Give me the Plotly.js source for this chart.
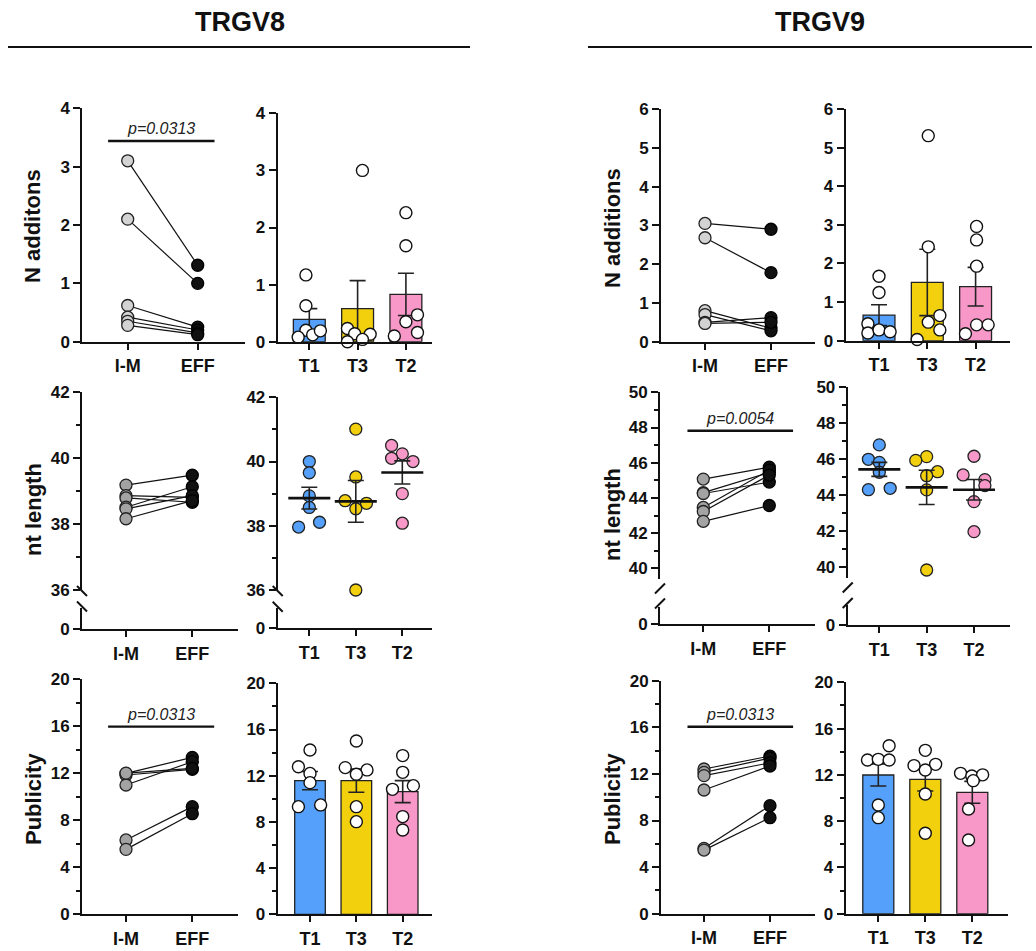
<!DOCTYPE html>
<html>
<head>
<meta charset="utf-8">
<script src="https://cdn.plot.ly/plotly-3.0.1.min.js"></script>
<style>html,body{margin:0;padding:0;background:#fff;}#chart{width:1036px;height:951px;}</style>
</head>
<body>
<div id="chart"></div>
<script>
// ---------------- DATA ----------------
const pairedCats = ['I-M', 'EFF'];
const barCats = ['T1', 'T3', 'T2'];
const groupTitles = ['TRGV8', 'TRGV9'];
const yTitlesLeft = ['N additons', 'nt length', 'Publicity'];
const yTitlesRight = ['N additions', 'nt length', 'Publicity'];

// TRGV8 - N additions
const v8NaddIM  = [3.10, 2.10, 0.62, 0.42, 0.35, 0.28];
const v8NaddEFF = [1.31, 1.00, 0.25, 0.20, 0.15, 0.12];
const v8NaddMean = [0.39, 0.58, 0.83];
const v8NaddSem  = [0.19, 0.49, 0.37];
const v8NaddT1 = [1.17, 0.63, 0.20, 0.08, 0.12, 0.19];
const v8NaddT3 = [3.00, 0.23, 0.14, 0.13, 0.00, 0.04];
const v8NaddT2 = [2.26, 1.68, 0.47, 0.35, 0.16, 0.10];

// TRGV9 - N additions
const v9NaddIM  = [3.05, 2.68, 0.80, 0.70, 0.50, 0.47];
const v9NaddEFF = [2.90, 1.78, 0.35, 0.28, 0.62, 0.50];
const v9NaddMean = [0.66, 1.51, 1.40];
const v9NaddSem  = [0.27, 0.86, 0.50];
const v9NaddT1 = [1.67, 1.25, 0.44, 0.20, 0.28, 0.23];
const v9NaddT3 = [5.31, 2.43, 0.65, 0.48, 0.28, 0.03];
const v9NaddT2 = [2.96, 2.61, 1.93, 0.41, 0.41, 0.18];

// TRGV8 - nt length
const v8LenIM  = [39.17, 38.85, 38.78, 38.50, 38.45, 38.15];
const v8LenEFF = [39.47, 38.80, 38.65, 39.12, 38.85, 38.70];
const v8LenMean = [38.86, 38.76, 39.66];
const v8LenSem  = [0.34, 0.65, 0.36];
const v8LenT1 = [40.00, 39.65, 38.93, 38.57, 37.96, 38.11];
const v8LenT3 = [41.01, 39.52, 38.78, 38.70, 38.53, 36.00];
const v8LenT2 = [40.50, 40.24, 40.10, 40.00, 39.00, 38.08];

// TRGV9 - nt length
const v9LenIM  = [45.07, 44.30, 44.25, 43.46, 43.23, 42.67];
const v9LenEFF = [45.75, 45.45, 44.90, 45.58, 45.30, 43.57];
const v9LenMean = [45.44, 44.44, 44.31];
const v9LenSem  = [0.39, 0.95, 0.57];
const v9LenT1 = [46.80, 46.00, 45.83, 45.28, 44.31, 44.39];
const v9LenT3 = [46.15, 45.94, 45.31, 45.09, 44.30, 39.85];
const v9LenT2 = [46.17, 45.13, 44.87, 44.54, 43.65, 41.98];

// TRGV8 - Publicity
const v8PubIM  = [11.98, 11.84, 10.99, 12.00, 6.32, 5.52];
const v8PubEFF = [13.34, 12.32, 12.97, 12.40, 9.15, 8.55];
const v8PubMean = [11.57, 11.57, 10.62];
const v8PubSem  = [0.79, 1.00, 0.95];
const v8PubT1 = [14.23, 12.78, 12.20, 11.40, 9.32, 9.47];
const v8PubT3 = [15.00, 12.70, 12.50, 12.12, 9.32, 8.02];
const v8PubT2 = [13.74, 12.29, 10.82, 11.14, 8.46, 7.30];

// TRGV9 - Publicity
const v9PubIM  = [12.42, 12.13, 11.85, 10.62, 5.61, 5.46];
const v9PubEFF = [13.53, 13.35, 12.95, 12.68, 9.27, 8.24];
const v9PubMean = [11.99, 11.61, 10.49];
const v9PubSem  = [0.95, 1.00, 0.95];
const v9PubT1 = [14.52, 13.29, 13.34, 13.29, 9.39, 8.30];
const v9PubT3 = [14.12, 12.80, 12.91, 12.42, 10.35, 6.95];
const v9PubT2 = [12.13, 11.90, 12.00, 11.50, 9.05, 6.37];

// significance labels and bar levels
const pTexts  = ['p=0.0313', 'p=0.0054', 'p=0.0313', 'p=0.0313'];
const pLevels = [3.44, 47.82, 15.95, 16.05];

// ---------------- LAYOUT / STYLE ----------------
// horizontal scatter-layout offsets (category units) for dots
const jit = {
  v8Nadd: [[-0.07,-0.07,-0.07,-0.23,0.07,0.23],[0.10,-0.21,-0.06,0.26,-0.21,0.10],[0,0,0.24,0,0.24,-0.24]],
  v9Nadd: [[0,0,-0.23,-0.23,0,0.23],[0.02,0.02,0.26,0.02,0.26,-0.21],[0.02,0.02,0.02,0.02,0.26,-0.21]],
  v8Len:  [[0,0,0,0,-0.23,0.22],[0,0,-0.23,0.23,0,0],[-0.23,0,-0.23,0.23,0,0]],
  v9Len:  [[0,-0.23,0,0,-0.23,0.23],[0,-0.23,0.23,0,0,0],[0,-0.23,0.23,0.23,0,0]],
  v8Pub:  [[0,-0.25,0,0,-0.25,0.23],[0,-0.24,0.23,0,0,0],[0,0,-0.22,0.23,0,0]],
  v9Pub:  [[0.23,-0.23,0,0.23,0,0],[0,-0.24,0.22,0,0,0],[-0.25,-0.01,0.22,0.02,-0.08,-0.08]]
};

const W = 1036, H = 951;
const FONT = '"Liberation Sans", Arial, Helvetica, sans-serif';
const INK = '#111111';
const barColors = ['#55a0fa', '#f2d00e', '#f898c8'];
const grayLight = '#d3d3d3', grayMid = '#a3a3a3';

const px = p => p / W;
const py = p => 1 - p / H;

// panel geometry in pixels
const geo = [
  {axL:82.3, axR:245, c0:127.7, dc:70,   top:108.3, bot:341.7, yr:[0,4],  dt:1},
  {axL:277.7,axR:432, c0:309.3, dc:48.3, top:113.3, bot:341.7, yr:[0,4],  dt:1},
  {axL:661,  axR:815, c0:705,   dc:66,   top:109,   bot:341.7, yr:[0,6],  dt:1},
  {axL:845.7,axR:1010,c0:879,   dc:48.3, top:109,   bot:340.7, yr:[0,6],  dt:1},
  {axL:82,   axR:238, c0:126,   dc:66.3, top:391.7, bot:589.7, yr:[36,42],dt:2, mn:1, brk:{top:608, zero:629, m1:591, m2:606.5, dir:-1}},
  {axL:277.7,axR:432, c0:309.3, dc:46.5, top:397.3, bot:590,   yr:[36,42],dt:2, mn:1, brk:{top:608.3, zero:628.3, m1:591, m2:606.7, dir:-1}},
  {axL:660,  axR:815, c0:703.3, dc:66,   top:392.3, bot:578.9, yr:[39.4,50],dt:2, mn:1, brk:{top:606.7, zero:624.3, m1:588.5, m2:603.5, dir:1}},
  {axL:847.7,axR:1010,c0:879.3, dc:47.35,top:387.3, bot:578.1, yr:[39.4,50],dt:2, mn:1, brk:{top:605, zero:625, m1:587.5, m2:603, dir:1}},
  {axL:82,   axR:238, c0:126,   dc:66.3, top:679,   bot:914.3, yr:[0,20], dt:4, mn:2},
  {axL:277.7,axR:432, c0:310,   dc:46.35,top:683.3, bot:914.3, yr:[0,20], dt:4, mn:2},
  {axL:661,  axR:815, c0:704,   dc:66,   top:680.7, bot:913.7, yr:[0,20], dt:4, mn:2},
  {axL:845.7,axR:1008,c0:878.3, dc:47,   top:682.3, bot:913.7, yr:[0,20], dt:4, mn:2}
];

const yTickFont = {family: FONT, size: 17, color: INK, weight: 'bold'};
const xTickFont = {family: FONT, size: 18, color: INK, weight: 'bold'};
const layout = {
  width: W, height: H, margin: {l:0, r:0, t:0, b:0},
  paper_bgcolor: '#fff', plot_bgcolor: 'rgba(0,0,0,0)',
  showlegend: false, font: {family: FONT, color: INK},
  shapes: [], annotations: []
};

const traces = [];
const sfx = n => (n === 1 ? '' : String(n));

let extraY = 13;
geo.forEach((g, i) => {
  const n = i + 1;
  const isPaired = (i % 2 === 0);
  const cats = isPaired ? pairedCats : barCats;
  let xAnchor = 'y' + sfx(n);
  if (g.brk) {
    const lowId = extraY++;
    layout['yaxis' + lowId] = {
      domain: [py(g.brk.zero), py(g.brk.top)], range: [0, 1], anchor: 'x' + sfx(n),
      tickmode: 'array', tickvals: [0], ticktext: ['0'],
      showline: true, linewidth: 2, linecolor: INK, ticks: 'outside', ticklen: 7, tickwidth: 2, tickcolor: INK,
      showgrid: false, zeroline: false, tickfont: yTickFont, fixedrange: true
    };
    xAnchor = 'y' + lowId;
    // empty helper trace so that the lower axis segment gets its own subplot
    traces.push({type:'scatter', mode:'markers', x:[null], y:[null], xaxis:'x' + sfx(n), yaxis:'y' + lowId});
    // break marks
    [g.brk.m1, g.brk.m2].forEach(yc => {
      layout.shapes.push({type:'line', xref:'paper', yref:'paper',
        x0: px(g.axL - 5), y0: py(yc + 5 * g.brk.dir), x1: px(g.axL + 5), y1: py(yc - 5 * g.brk.dir),
        line: {color: INK, width: 2}});
    });
  }
  layout['xaxis' + sfx(n)] = {
    domain: [px(g.axL), px(g.axR)],
    range: [-(g.c0 - g.axL) / g.dc, (g.axR - g.c0) / g.dc],
    anchor: xAnchor, tickmode: 'array', tickvals: cats.map((c, k) => k), ticktext: cats,
    showline: true, linewidth: 2, linecolor: INK, ticks: 'outside', ticklen: 6, tickwidth: 2, tickcolor: INK,
    ticklabelstandoff: 1,
    showgrid: false, zeroline: false, tickfont: xTickFont, fixedrange: true
  };
  const ya = {
    domain: [py(g.bot), py(g.top)], range: g.yr, anchor: 'x' + sfx(n),
    tickmode: 'linear', tick0: 0, dtick: g.dt,
    showline: true, linewidth: 2, linecolor: INK, ticks: 'outside', ticklen: 7, tickwidth: 2, tickcolor: INK,
    showgrid: false, zeroline: false, tickfont: yTickFont, fixedrange: true
  };
  if (g.mn) ya.minor = {dtick: g.mn, tick0: 0, ticks: 'outside', ticklen: 4, tickwidth: 2, tickcolor: INK, showgrid: false};
  layout['yaxis' + sfx(n)] = ya;
});

const ax = n => ({x: 'x' + sfx(n), y: 'y' + sfx(n)});

function paired(n, im, eff, imColor) {
  const a = ax(n);
  const lx = [], ly = [];
  im.forEach((v, i) => { lx.push(0, 1, null); ly.push(v, eff[i], null); });
  traces.push({type:'scatter', mode:'lines', x: lx, y: ly, xaxis:a.x, yaxis:a.y,
    line:{color: INK, width: 1.2}, cliponaxis:false});
  traces.push({type:'scatter', mode:'markers', x: im.map(() => 0), y: im, xaxis:a.x, yaxis:a.y,
    marker:{size: 12, color: imColor, line:{color:'#222', width:1.3}}, cliponaxis:false});
  traces.push({type:'scatter', mode:'markers', x: eff.map(() => 1), y: eff, xaxis:a.x, yaxis:a.y,
    marker:{size: 12, color: INK, line:{color:'#000', width:1.3}}, cliponaxis:false});
}

function bars(n, means, sems, groups, jt) {
  const a = ax(n);
  traces.push({type:'bar', x: barCats.map((c, k) => k), y: means, width: 0.66, xaxis:a.x, yaxis:a.y,
    marker:{color: barColors, line:{color:'#222', width:1.3}},
    error_y:{type:'data', array: sems, visible:true, color:'#222', thickness:1.6, width:8}});
  groups.forEach((vals, k) => {
    traces.push({type:'scatter', mode:'markers', x: vals.map((v, i) => k + jt[k][i]), y: vals, xaxis:a.x, yaxis:a.y,
      marker:{size: 12, color:'#ffffff', line:{color:INK, width:1.4}}, cliponaxis:false});
  });
}

function dots(n, means, sems, groups, jt) {
  const a = ax(n);
  groups.forEach((vals, k) => {
    traces.push({type:'scatter', mode:'markers', x: vals.map((v, i) => k + jt[k][i]), y: vals, xaxis:a.x, yaxis:a.y,
      marker:{size: 12, color: barColors[k], line:{color:'#222', width:1.3}}, cliponaxis:false});
  });
  traces.push({type:'scatter', mode:'markers', x: barCats.map((c, k) => k), y: means, xaxis:a.x, yaxis:a.y,
    marker:{symbol:'line-ew', size: 30, color: INK, line:{color: INK, width: 2.6}},
    error_y:{type:'data', array: sems, visible:true, color:'#222', thickness:1.6, width:8}, cliponaxis:false});
}

paired(1, v8NaddIM, v8NaddEFF, grayLight);
bars(2, v8NaddMean, v8NaddSem, [v8NaddT1, v8NaddT3, v8NaddT2], jit.v8Nadd);
paired(3, v9NaddIM, v9NaddEFF, grayLight);
bars(4, v9NaddMean, v9NaddSem, [v9NaddT1, v9NaddT3, v9NaddT2], jit.v9Nadd);
paired(5, v8LenIM, v8LenEFF, grayMid);
dots(6, v8LenMean, v8LenSem, [v8LenT1, v8LenT3, v8LenT2], jit.v8Len);
paired(7, v9LenIM, v9LenEFF, grayMid);
dots(8, v9LenMean, v9LenSem, [v9LenT1, v9LenT3, v9LenT2], jit.v9Len);
paired(9, v8PubIM, v8PubEFF, grayMid);
bars(10, v8PubMean, v8PubSem, [v8PubT1, v8PubT3, v8PubT2], jit.v8Pub);
paired(11, v9PubIM, v9PubEFF, grayMid);
bars(12, v9PubMean, v9PubSem, [v9PubT1, v9PubT3, v9PubT2], jit.v9Pub);

// significance bars (panels 1, 7, 9, 11)
const pPanels = [1, 7, 9, 11];
const pSpan = [[-0.28, 1.24], [-0.24, 1.36], [-0.27, 1.33], [-0.25, 1.35]];
pPanels.forEach((n, k) => {
  const a = ax(n);
  layout.shapes.push({type:'line', xref:a.x, yref:a.y, x0:pSpan[k][0], x1:pSpan[k][1], y0:pLevels[k], y1:pLevels[k],
    line:{color: INK, width: 2.4}});
  layout.annotations.push({xref:a.x, yref:a.y, x:(pSpan[k][0] + pSpan[k][1]) / 2, y:pLevels[k], yanchor:'bottom', yshift:2,
    text:'<i>' + pTexts[k] + '</i>', showarrow:false, font:{family: FONT, size: 16, color:'#222'}});
});

// group headers
[[240, 8, 470], [820, 588, 1032]].forEach((h, k) => {
  layout.annotations.push({xref:'paper', yref:'paper', x:px(h[0]), y:py(22), xanchor:'center', yanchor:'middle',
    text:'<b>' + groupTitles[k] + '</b>', showarrow:false, font:{family: FONT, size: 27, color: INK}});
  layout.shapes.push({type:'line', xref:'paper', yref:'paper', x0:px(h[1]), x1:px(h[2]), y0:py(47), y1:py(47),
    line:{color: INK, width: 2}});
});

// y titles
const rowsY = [226, 510, 799];
const rowsYR = [228, 515, 799];
rowsY.forEach((yc, k) => {
  layout.annotations.push({xref:'paper', yref:'paper', x:px(33), y:py(yc), xanchor:'center', yanchor:'middle',
    textangle:-90, text:'<b>' + yTitlesLeft[k] + '</b>', showarrow:false, font:{family: FONT, size: 22, color: INK}});
  layout.annotations.push({xref:'paper', yref:'paper', x:px(612), y:py(rowsYR[k]), xanchor:'center', yanchor:'middle',
    textangle:-90, text:'<b>' + yTitlesRight[k] + '</b>', showarrow:false, font:{family: FONT, size: 22, color: INK}});
});

traces.forEach(t => { t.showlegend = false; t.hoverinfo = 'skip'; });
Plotly.newPlot('chart', traces, layout, {staticPlot: true, displayModeBar: false});
</script>
</body>
</html>
